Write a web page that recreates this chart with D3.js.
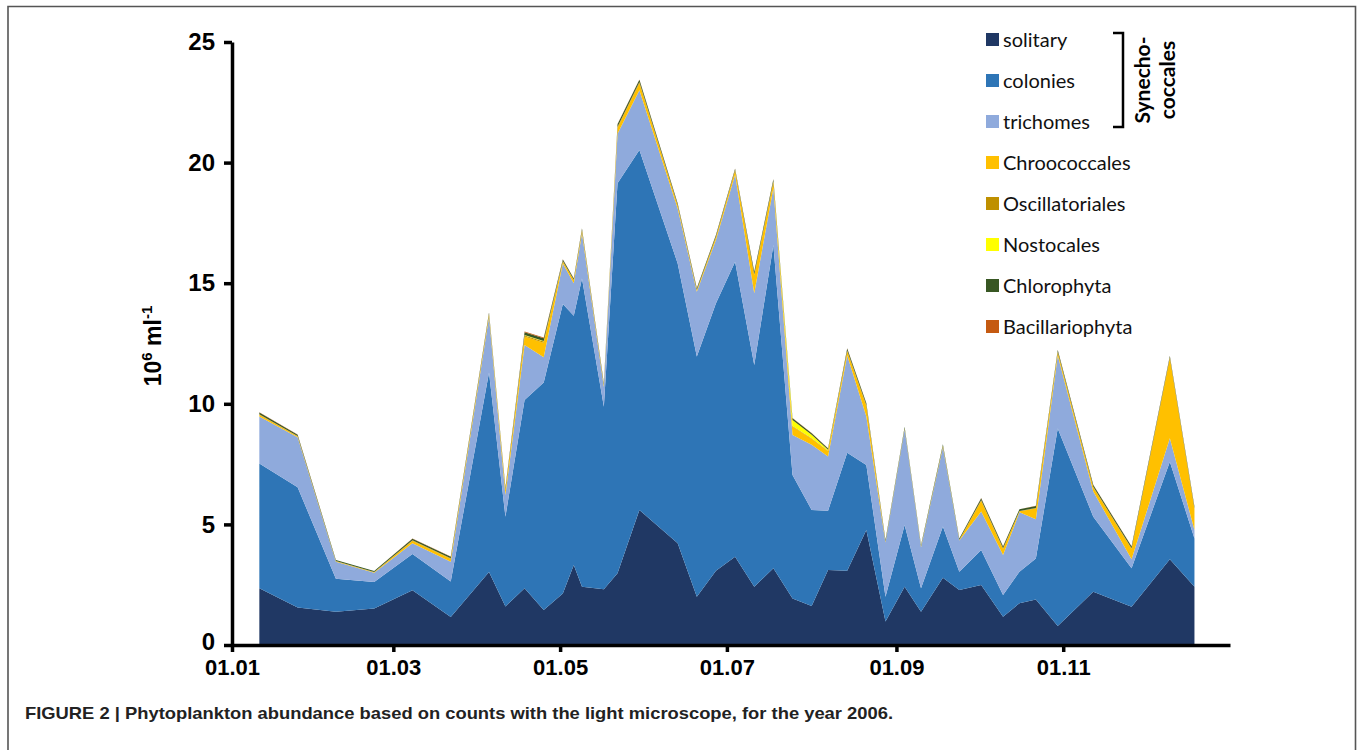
<!DOCTYPE html>
<html>
<head>
<meta charset="utf-8">
<script src="https://cdn.jsdelivr.net/npm/d3@7"></script>
<style>
  body { margin: 0; background: #fff; }
  svg { display: block; }
</style>
</head>
<body>
<svg id="drawing_region"></svg>
<script>
// sampling dates, 2006
const dates = ["2006-01-11","2006-01-25","2006-02-08","2006-02-22","2006-03-08","2006-03-22","2006-04-05","2006-04-11","2006-04-18","2006-04-25","2006-05-02","2006-05-06","2006-05-09","2006-05-17","2006-05-22","2006-05-30","2006-06-13","2006-06-20","2006-06-27","2006-07-04","2006-07-11","2006-07-18","2006-07-25","2006-08-01","2006-08-07","2006-08-14","2006-08-21","2006-08-28","2006-09-04","2006-09-10","2006-09-18","2006-09-24","2006-10-02","2006-10-10","2006-10-16","2006-10-22","2006-10-30","2006-11-12","2006-11-26","2006-12-10","2006-12-19"];

// abundance, 10^6 ml-1
const solitary = [2.35,1.55,1.38,1.51,2.27,1.16,3.03,1.6,2.35,1.45,2.14,3.32,2.42,2.31,2.97,5.6,4.22,2.0,3.08,3.66,2.42,3.18,1.93,1.62,3.11,3.08,4.77,0.97,2.42,1.38,2.79,2.28,2.49,1.17,1.73,1.89,0.79,2.21,1.59,3.55,2.42];
const colonies = [5.18,4.99,1.37,1.10,1.50,1.47,8.27,3.72,7.81,9.43,12.0,10.33,12.78,7.57,16.17,14.92,11.6,9.96,11.09,12.23,9.19,13.4,5.12,3.98,2.46,4.89,2.69,1.03,2.56,0.97,2.12,0.76,1.45,0.9,1.31,1.7,8.19,3.11,1.59,4.05,2.0];
const trichomes = [1.94,2.07,0.70,0.39,0.45,0.82,2.3,0.9,2.28,1.05,1.68,1.35,1.87,0.82,2.06,2.48,2.28,2.69,2.63,3.61,2.97,2.37,1.66,2.7,2.24,4.03,2.01,2.25,3.97,1.7,3.29,1.29,1.59,1.66,2.46,1.62,3.02,1.04,0.37,0.97,0.35];
const chroococcales = [0.08,0.04,0.02,0.02,0.10,0.13,0.10,0.22,0.35,0.60,0.08,0.12,0.12,0.07,0.25,0.30,0.12,0.06,0.12,0.17,0.75,0.25,0.35,0.25,0.22,0.18,0.45,0.03,0.03,0.03,0.05,0.02,0.45,0.26,0.05,0.45,0.14,0.18,0.44,3.33,0.88];
const oscillatoriales = [0.02,0.01,0.01,0.01,0.02,0.02,0.02,0.02,0.04,0.05,0.02,0.02,0.02,0.02,0.04,0.04,0.02,0.02,0.02,0.02,0.04,0.03,0.02,0.02,0.02,0.03,0.03,0.01,0.01,0.01,0.01,0.01,0.03,0.02,0.01,0.02,0.02,0.02,0.02,0.02,0.02];
const nostocales = [0,0,0,0,0,0,0,0,0.02,0.02,0,0,0,0,0,0,0,0,0,0,0,0,0.25,0.15,0.04,0,0,0,0,0,0,0,0,0,0,0,0,0,0,0,0];
const chlorophyta = [0.07,0.06,0.04,0.04,0.07,0.06,0.07,0.06,0.12,0.12,0.06,0.06,0.06,0.06,0.1,0.1,0.06,0.06,0.06,0.06,0.1,0.08,0.07,0.06,0.06,0.08,0.07,0.06,0.06,0.06,0.06,0.06,0.07,0.07,0.07,0.08,0.07,0.07,0.07,0.06,0.06];
const bacillariophyta = [0.01,0.01,0,0,0.01,0.01,0.01,0.01,0.03,0.03,0.01,0.01,0.01,0.01,0.01,0.01,0.01,0.01,0.01,0.01,0.01,0.01,0.01,0.01,0.01,0.01,0.01,0,0,0,0,0,0.01,0.01,0,0.01,0.01,0.01,0.01,0.01,0.01];

const labels = ["solitary","colonies","trichomes","Chroococcales","Oscillatoriales","Nostocales","Chlorophyta","Bacillariophyta"];
const series = [solitary,colonies,trichomes,chroococcales,oscillatoriales,nostocales,chlorophyta,bacillariophyta];
const colors = ["#203864","#2E75B6","#8FAADC","#FFC000","#BF9000","#FFFF00","#385723","#C55A11"];
const yTicks = [0,5,10,15,20,25];
const xTicks = ["2006-01-01","2006-03-01","2006-05-01","2006-07-01","2006-09-01","2006-11-01"];

const W = 1362, H = 750;
const parse = d3.utcParse("%Y-%m-%d");

const svg = d3.select("#drawing_region")
    .attr("width", W)
    .attr("height", H);

// frame around the figure
svg.append("path")
    .attr("d", `M8,750 V6.5 H1355.5 V750`)
    .attr("fill", "none")
    .attr("stroke", "#555")
    .attr("stroke-width", 1.6);

const rows = dates.map((d, i) => {
    const r = {date: parse(d)};
    labels.forEach((k, j) => r[k] = series[j][i]);
    return r;
});

const x = d3.scaleUtc()
    .domain([parse("2006-01-01"), parse("2007-01-01")])
    .range([232, 1230]);
const y = d3.scaleLinear()
    .domain([0, 25])
    .range([645, 42]);

const stack = d3.stack().keys(labels);
const area = d3.area()
    .x(d => x(d.data.date))
    .y0(d => y(d[0]))
    .y1(d => y(d[1]));

svg.append("g")
    .selectAll("path")
    .data(stack(rows))
    .join("path")
    .attr("d", area)
    .attr("fill", (d, i) => colors[i]);

// axes
const yAxis = svg.append("g")
    .attr("transform", "translate(232,0)")
    .call(d3.axisLeft(y).tickValues(yTicks).tickSize(8).tickPadding(9).tickSizeOuter(0));
const xAxis = svg.append("g")
    .attr("transform", "translate(0,645)")
    .call(d3.axisBottom(x).tickValues(xTicks.map(parse)).tickFormat(d3.utcFormat("%d.%m")).tickSize(7).tickPadding(7).tickSizeOuter(0));

[yAxis, xAxis].forEach(a => {
    a.select(".domain").attr("stroke", "#000").attr("stroke-width", 3.5);
    a.selectAll(".tick line").attr("stroke", "#000").attr("stroke-width", 3.5);
    a.selectAll("text")
        .attr("fill", "#000")
        .attr("font-family", "Liberation Sans, Arial, sans-serif")
        .attr("font-weight", "bold")
        .attr("font-size", 24);
});
xAxis.selectAll("text").attr("font-size", 22);
// lift the 0 label a little so it clears 01.01
yAxis.selectAll(".tick text").filter(d => d === 0).attr("dy", "0.2em");

// y axis title
const yt = svg.append("text")
    .attr("transform", "translate(161,346) rotate(-90)")
    .attr("text-anchor", "middle")
    .attr("font-family", "Liberation Sans, Arial, sans-serif")
    .attr("font-weight", "bold")
    .attr("font-size", 23);
yt.append("tspan").text("10");
yt.append("tspan").attr("dy", -9).attr("font-size", 15).text("6");
yt.append("tspan").attr("dy", 9).text(" ml");
yt.append("tspan").attr("dy", -9).attr("font-size", 15).text("-1");

// legend
const legend = svg.append("g")
    .attr("font-family", "Lato, Noto Sans, sans-serif")
    .attr("font-size", 20);
labels.forEach((lab, i) => {
    const ly = 40 + i * 41;
    legend.append("rect")
        .attr("x", 986).attr("y", ly - 7)
        .attr("width", 13).attr("height", 13)
        .attr("fill", colors[i]);
    legend.append("text")
        .attr("x", 1003).attr("y", ly + 7)
        .attr("fill", "#111")
        .text(lab);
});

// bracket for Synechococcales
svg.append("path")
    .attr("d", "M1113,33 H1123 V127 H1113")
    .attr("fill", "none")
    .attr("stroke", "#000")
    .attr("stroke-width", 2.5);
const syn = svg.append("g")
    .attr("font-family", "Lato, Noto Sans, sans-serif")
    .attr("font-weight", "bold")
    .attr("font-size", 21)
    .attr("text-anchor", "middle");
syn.append("text").attr("transform", "translate(1150,80) rotate(-90)").text("Synecho-");
syn.append("text").attr("transform", "translate(1175,80) rotate(-90)").text("coccales");

// caption
svg.append("text")
    .attr("x", 25).attr("y", 719)
    .attr("font-family", "Liberation Sans Narrow, Liberation Sans, Arial, sans-serif")
    .attr("font-weight", "bold")
    .attr("font-size", 17)
    .attr("fill", "#222")
    .attr("textLength", 868)
    .attr("lengthAdjust", "spacingAndGlyphs")
    .text("FIGURE 2 | Phytoplankton abundance based on counts with the light microscope, for the year 2006.");
</script>
</body>
</html>
